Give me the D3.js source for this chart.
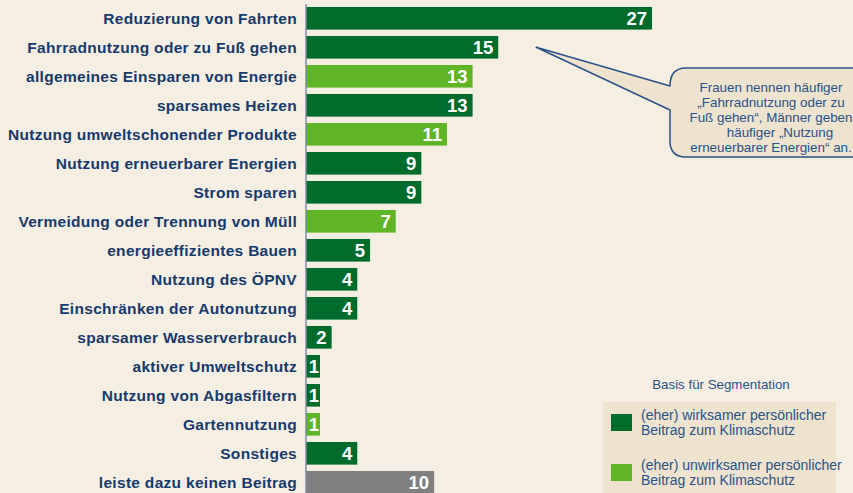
<!DOCTYPE html>
<html>
<head>
<meta charset="utf-8">
<script src="https://cdn.jsdelivr.net/npm/d3@7"></script>
<style>
  body { margin: 0; background: #f5eee3; }
  svg { display: block; font-family: "Liberation Sans", Arial, sans-serif; }
</style>
</head>
<body>
<div id="chart"></div>
<script>
// data
var categories = [
  "Reduzierung von Fahrten",
  "Fahrradnutzung oder zu Fuß gehen",
  "allgemeines Einsparen von Energie",
  "sparsames Heizen",
  "Nutzung umweltschonender Produkte",
  "Nutzung erneuerbarer Energien",
  "Strom sparen",
  "Vermeidung oder Trennung von Müll",
  "energieeffizientes Bauen",
  "Nutzung des ÖPNV",
  "Einschränken der Autonutzung",
  "sparsamer Wasserverbrauch",
  "aktiver Umweltschutz",
  "Nutzung von Abgasfiltern",
  "Gartennutzung",
  "Sonstiges",
  "leiste dazu keinen Beitrag"
];
var values = [27, 15, 13, 13, 11, 9, 9, 7, 5, 4, 4, 2, 1, 1, 1, 4, 10];
// w = (eher) wirksam, u = (eher) unwirksam, n = kein Beitrag
var groups = ["w", "w", "u", "w", "u", "w", "w", "u", "w", "w", "w", "w", "w", "w", "u", "w", "n"];
var legendLabels = [
  ["(eher) wirksamer persönlicher", "Beitrag zum Klimaschutz"],
  ["(eher) unwirksamer persönlicher", "Beitrag zum Klimaschutz"]
];
var noteLines = [
  "Frauen nennen häufiger",
  "„Fahrradnutzung oder zu",
  "Fuß gehen“, Männer geben",
  "häufiger „Nutzung",
  "erneuerbarer Energien“ an."
];

var width = 853, height = 493;
var navy = "#163a6c", noteBlue = "#2b5288";
var color = d3.scaleOrdinal().domain(["w", "u", "n"]).range(["#006c2c", "#5fb526", "#7f7f7f"]);

var svg = d3.select("#chart").append("svg")
    .attr("width", width).attr("height", height);

svg.append("rect").attr("width", width).attr("height", height).attr("fill", "#f5eee3");

var x = d3.scaleLinear().domain([0, 27]).range([306, 652]);
var y = d3.scaleBand().domain(categories).range([3.8, 496.8])
    .paddingInner(0.22).paddingOuter(0.11);

var rows = categories.map(function(c, i) { return {cat: c, v: values[i], g: groups[i]}; });

// bars
svg.selectAll("rect.bar").data(rows).enter().append("rect")
    .attr("class", "bar")
    .attr("x", x(0))
    .attr("y", function(d) { return y(d.cat); })
    .attr("width", function(d) { return Math.max(x(d.v) - x(0), 14); })
    .attr("height", y.bandwidth())
    .attr("fill", function(d) { return color(d.g); });

// value labels
svg.selectAll("text.val").data(rows).enter().append("text")
    .attr("class", "val")
    .attr("x", function(d) { return Math.max(x(d.v) - 5, x(0) + 13); })
    .attr("y", function(d) { return y(d.cat) + y.bandwidth() / 2; })
    .attr("dy", "0.36em")
    .attr("text-anchor", "end")
    .attr("fill", "#fff")
    .attr("font-weight", "bold")
    .attr("font-size", "18.5px")
    .text(function(d) { return d.v; });

// category axis
var yAxis = svg.append("g").attr("transform", "translate(" + x(0) + ",0)")
    .call(d3.axisLeft(y).tickSize(0).tickPadding(9));
yAxis.select(".domain").attr("stroke", "#7d8ca3").attr("stroke-width", 1.5)
    .attr("d", "M0,4V" + height);
yAxis.selectAll("text")
    .attr("fill", navy)
    .attr("font-family", "'Liberation Sans', Arial, sans-serif")
    .attr("font-weight", "bold")
    .attr("font-size", "15.5px")
    .attr("letter-spacing", "0.3px")
    .attr("dy", "0.37em");

// callout
var tipX = x(values[1]) + 38, tipY = y(categories[1]) + y.bandwidth() / 2;
var bx = 670, by = 68, bb = 157, r = 16;
var callout = d3.path();
callout.moveTo(tipX, tipY);
callout.lineTo(bx, by + 18);
callout.quadraticCurveTo(bx, by, bx + r, by);
callout.lineTo(width + 20, by);
callout.lineTo(width + 20, bb);
callout.lineTo(bx + r, bb);
callout.quadraticCurveTo(bx, bb, bx, bb - r);
callout.lineTo(bx, by + 42);
callout.closePath();
svg.append("path").attr("d", callout.toString())
    .attr("fill", "#ede3cf").attr("stroke", noteBlue).attr("stroke-width", 1.5)
    .attr("stroke-linejoin", "round");

svg.append("text")
    .attr("text-anchor", "middle")
    .attr("fill", noteBlue)
    .attr("font-size", "13.4px")
    .selectAll("tspan").data(noteLines).enter().append("tspan")
    .attr("x", function(d, i) { return i == 3 ? 780 : 771; })
    .attr("y", function(d, i) { return 91.5 + i * 15.2; })
    .text(function(d) { return d; });

// legend
svg.append("text")
    .attr("x", 721).attr("y", 389)
    .attr("text-anchor", "middle")
    .attr("fill", noteBlue)
    .attr("font-size", "13.3px")
    .text("Basis für Segmentation");

svg.append("rect").attr("x", 603).attr("y", 402).attr("width", 233).attr("height", height - 402)
    .attr("fill", "#ede3cf");

var leg = svg.selectAll("g.leg").data(legendLabels).enter().append("g")
    .attr("class", "leg")
    .attr("transform", function(d, i) { return "translate(611," + (414 + i * 50) + ")"; });
leg.append("rect").attr("width", 21).attr("height", 17)
    .attr("fill", function(d, i) { return color(["w", "u"][i]); });
leg.append("text")
    .attr("fill", noteBlue)
    .attr("font-size", "14px")
    .selectAll("tspan").data(function(d) { return d; }).enter().append("tspan")
    .attr("x", 30)
    .attr("y", function(d, i) { return 5.5 + i * 15; })
    .text(function(d) { return d; });
</script>
</body>
</html>
